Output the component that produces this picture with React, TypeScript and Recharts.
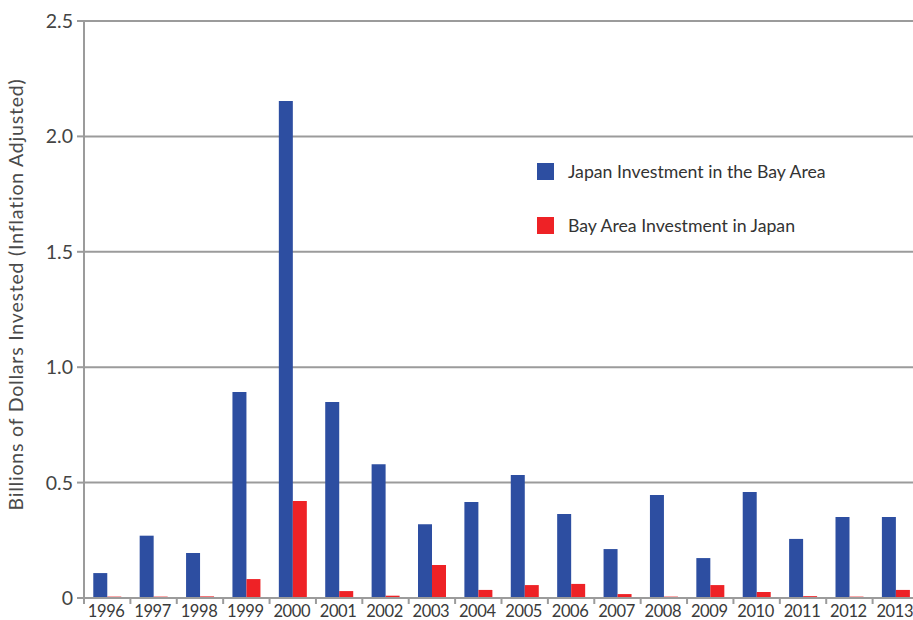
import React from "react";
import { BarChart, Bar, XAxis, YAxis, CartesianGrid, Legend, Label } from "recharts";

const years = ["1996","1997","1998","1999","2000","2001","2002","2003","2004","2005","2006","2007","2008","2009","2010","2011","2012","2013"];
const japanInBayArea = [0.108,0.27,0.195,0.893,2.153,0.849,0.58,0.32,0.416,0.533,0.364,0.212,0.446,0.173,0.459,0.256,0.351,0.351];
const bayAreaInJapan = [0.006,0.006,0.007,0.082,0.42,0.03,0.01,0.143,0.035,0.056,0.061,0.017,0.006,0.056,0.026,0.008,0.006,0.035];
const yTicks = [0, 0.5, 1.0, 1.5, 2.0, 2.5];
const seriesNames = ["Japan Investment in the Bay Area", "Bay Area Investment in Japan"];
const colors = ["#2d4ea1", "#ee2226"];

const data = years.map((y, i) => ({ year: y, japan: japanInBayArea[i], bay: bayAreaInJapan[i] }));

const FONT = "Lato, 'Open Sans', sans-serif";
const GRID = "#9b9b9b";

const XTick = (props: any) => {
  const { x, y, payload } = props;
  const off = payload.offset || 0;
  return (
    <g>
      <line x1={x - off} x2={x - off} y1={y} y2={y + 6} stroke={GRID} strokeWidth={2} />
      <text x={x - 1} y={y + 19} textAnchor="middle" fontSize={16.5} fill="#3a3a3a" fontFamily={FONT} letterSpacing={-0.4}>
        {payload.value}
      </text>
    </g>
  );
};

const LegendContent = (props: any) => {
  const items = [...(props.payload || [])].sort(
    (a: any, b: any) => seriesNames.indexOf(a.value) - seriesNames.indexOf(b.value)
  );
  return (
    <div style={{ fontFamily: FONT }}>
      {items.map((p: any, i: number) => (
        <div key={i} style={{ display: "flex", alignItems: "center", height: 17, marginBottom: i === 0 ? 37 : 0 }}>
          <div style={{ width: 17, height: 17, background: p.color, marginRight: 14 }} />
          <span style={{ fontSize: 17.7, color: "#333", whiteSpace: "nowrap" }}>{p.value}</span>
        </div>
      ))}
    </div>
  );
};

const YLabel = (props: any) => {
  const vb = props.viewBox || {};
  const cx = 18;
  const cy = (vb.y || 0) + (vb.height || 0) / 2 - 15;
  return (
    <text x={cx} y={cy} transform={`rotate(-90 ${cx} ${cy})`} textAnchor="middle" dominantBaseline="middle" fontSize={19.5} letterSpacing={0.8} fill="#4a4a4a" fontFamily={FONT}>
      Billions of Dollars Invested (Inflation Adjusted)
    </text>
  );
};

export default function App() {
  return (
    <div style={{ position: "absolute", left: 0, top: 0, width: 913, height: 620, overflow: "hidden", background: "#fff" }}>
      <BarChart width={919} height={620} data={data} margin={{ top: 21, right: 0, left: 0, bottom: 0 }} barCategoryGap="20%" barGap={0}>
        <CartesianGrid vertical={false} stroke={GRID} strokeWidth={2} />
        <XAxis dataKey="year" interval={0} tickSize={0} tickMargin={0} tickLine={false} axisLine={{ stroke: GRID, strokeWidth: 2 }} tick={<XTick />} height={22} />
        <YAxis
          width={84}
          domain={[0, 2.5]}
          ticks={yTicks}
          interval={0}
          tickFormatter={(v: number) => (v === 0 ? "0" : v.toFixed(1))}
          tick={{ fontSize: 19.5, fill: "#444", fontFamily: FONT }}
          tickSize={7}
          tickMargin={4}
          axisLine={{ stroke: GRID, strokeWidth: 2 }}
          tickLine={{ stroke: GRID, strokeWidth: 2 }}
        >
          <Label content={<YLabel />} />
        </YAxis>
        <Legend content={<LegendContent />} wrapperStyle={{ position: "absolute", left: 537, top: 163, width: 340 }} layout="horizontal" verticalAlign="middle" align="center" />
        <Bar dataKey="japan" name={seriesNames[0]} fill={colors[0]} isAnimationActive={false} />
        <Bar dataKey="bay" name={seriesNames[1]} fill={colors[1]} isAnimationActive={false} />
      </BarChart>
    </div>
  );
}
